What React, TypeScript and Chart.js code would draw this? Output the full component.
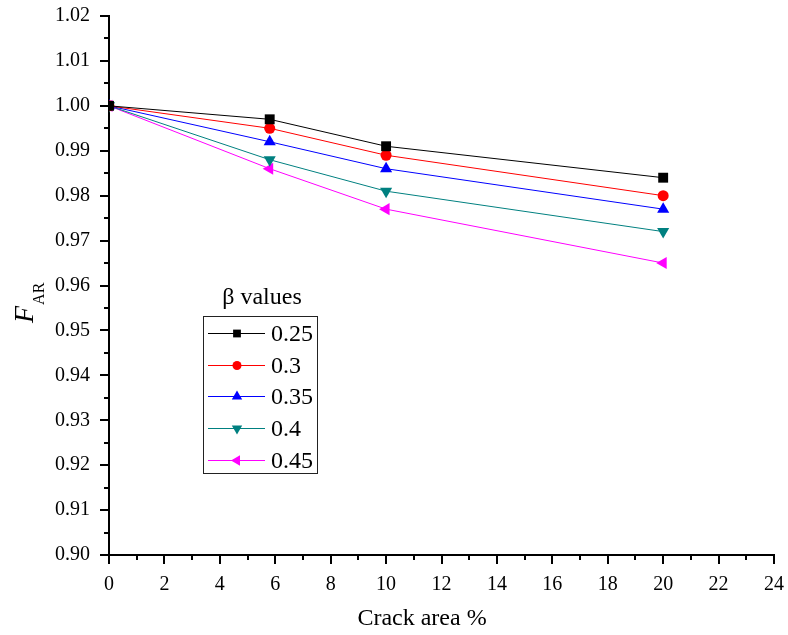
import React, { useEffect, useRef } from "react";
import { Chart, registerables } from "chart.js";

Chart.register(...registerables);

const crackArea = [0, 5.8, 10, 20];
const beta025 = [1.0, 0.997, 0.991, 0.984];
const beta030 = [1.0, 0.995, 0.989, 0.98];
const beta035 = [1.0, 0.992, 0.986, 0.977];
const beta040 = [1.0, 0.988, 0.981, 0.972];
const beta045 = [1.0, 0.986, 0.977, 0.965];
const seriesLabels = ["0.25", "0.3", "0.35", "0.4", "0.45"];
const seriesColors = ["#000000", "#ff0000", "#0000ff", "#008080", "#ff00ff"];
const seriesStyles = ["rect", "circle", "triangle", "triangle", "triangle"];
const seriesRotations = [0, 0, 0, 180, 270];
const seriesRadii = [7, 5.5, 7, 7, 7];
const legendRadii = [5.5, 4.5, 6, 6, 6];
const legendTitle = "β values";
const xTitle = "Crack area %";

const FONT = "'Liberation Serif', 'Times New Roman', serif";

function drawPointShape(ctx: any, style: string, rotation: number, x: number, y: number, r: number) {
  ctx.save();
  ctx.translate(x, y);
  ctx.rotate((rotation * Math.PI) / 180);
  ctx.beginPath();
  if (style === "rect") {
    const s = r * Math.SQRT1_2 * 2;
    ctx.rect(-s / 2, -s / 2, s, s);
  } else if (style === "circle") {
    ctx.arc(0, 0, r, 0, Math.PI * 2);
  } else {
    const a = (Math.PI * 2) / 3;
    ctx.moveTo(0, -r);
    ctx.lineTo(Math.sin(a) * r, -Math.cos(a) * r);
    ctx.lineTo(Math.sin(2 * a) * r, -Math.cos(2 * a) * r);
    ctx.closePath();
  }
  ctx.fill();
  ctx.restore();
}

const decorPlugin = {
  id: "decor",
  afterDraw(chart: any) {
    const ctx = chart.ctx;
    const xs = chart.scales.x;
    const ys = chart.scales.y;
    const area = chart.chartArea;
    ctx.save();
    ctx.strokeStyle = "#000";
    ctx.lineWidth = 2;
    for (let v = 0; v <= 24; v++) {
      const px = Math.round(xs.getPixelForValue(v));
      const len = v % 2 === 0 ? 9 : 5;
      ctx.beginPath();
      ctx.moveTo(px, area.bottom);
      ctx.lineTo(px, area.bottom + len);
      ctx.stroke();
    }
    for (let i = 0; i <= 24; i++) {
      const v = 0.9 + i * 0.005;
      const py = Math.round(ys.getPixelForValue(v));
      const len = i % 2 === 0 ? 9 : 5;
      ctx.beginPath();
      ctx.moveTo(area.left - len, py);
      ctx.lineTo(area.left, py);
      ctx.stroke();
    }

    ctx.fillStyle = "#000";
    ctx.font = `24px ${FONT}`;
    ctx.textAlign = "center";
    ctx.textBaseline = "alphabetic";
    ctx.fillText(xTitle, 422, 625);

    ctx.save();
    ctx.translate(33, 323);
    ctx.rotate(-Math.PI / 2);
    ctx.textAlign = "left";
    ctx.font = `italic 28px ${FONT}`;
    ctx.fillText("F", 0, 0);
    const fw = ctx.measureText("F").width;
    ctx.font = `16px ${FONT}`;
    ctx.fillText("AR", fw + 1, 11);
    ctx.restore();

    const bx = 203, by = 316, bw = 114, bh = 157;
    ctx.fillStyle = "#fff";
    ctx.fillRect(bx, by, bw, bh);
    ctx.strokeStyle = "#222";
    ctx.lineWidth = 1;
    ctx.strokeRect(bx + 0.5, by + 0.5, bw, bh);
    ctx.fillStyle = "#000";
    ctx.font = `24px ${FONT}`;
    ctx.textAlign = "center";
    ctx.textBaseline = "middle";
    ctx.fillText(legendTitle, 262, 298);
    ctx.textAlign = "left";
    chart.data.datasets.forEach((ds: any, i: number) => {
      const y = Math.round(333 + i * 31.7) + 0.5;
      ctx.strokeStyle = ds.borderColor;
      ctx.lineWidth = 1;
      ctx.beginPath();
      ctx.moveTo(208, y);
      ctx.lineTo(265, y);
      ctx.stroke();
      ctx.fillStyle = ds.borderColor;
      drawPointShape(ctx, ds.pointStyle, ds.pointRotation, 237, y, legendRadii[i]);
      ctx.fillStyle = "#000";
      ctx.font = `24px ${FONT}`;
      ctx.fillText(ds.label, 271, y + 1);
    });
    ctx.restore();
  },
};

export default function App() {
  const ref = useRef<HTMLCanvasElement>(null);
  useEffect(() => {
    if (!ref.current) return;
    const series = [beta025, beta030, beta035, beta040, beta045];
    const chart = new Chart(ref.current, {
      type: "line",
      data: {
        datasets: series.map((vals, i) => ({
          label: seriesLabels[i],
          data: vals.map((v, j) => ({ x: crackArea[j], y: v })),
          borderColor: seriesColors[i],
          backgroundColor: seriesColors[i],
          pointBackgroundColor: seriesColors[i],
          pointBorderColor: seriesColors[i],
          borderWidth: 1,
          pointStyle: seriesStyles[i] as any,
          pointRotation: seriesRotations[i],
          pointRadius: seriesRadii[i],
          pointBorderWidth: 0,
          tension: 0,
          fill: false,
        })),
      },
      options: {
        animation: false,
        responsive: false,
        maintainAspectRatio: false,
        layout: { padding: { left: 0, right: 14, top: 16, bottom: 0 } },
        plugins: {
          legend: { display: false },
          tooltip: { enabled: false },
          title: { display: false },
        },
        scales: {
          x: {
            type: "linear",
            min: 0,
            max: 24,
            grid: { display: false },
            border: { display: true, color: "#000", width: 2 },
            ticks: {
              stepSize: 2,
              color: "#000",
              font: { family: FONT, size: 20 },
              padding: 10,
              maxRotation: 0,
            },
            afterFit: (s: any) => {
              s.height = 80;
              s.paddingLeft = 0;
              s.paddingRight = 0;
            },
          },
          y: {
            type: "linear",
            min: 0.9,
            max: 1.02,
            grid: { display: false },
            border: { display: true, color: "#000", width: 2 },
            ticks: {
              stepSize: 0.01,
              color: "#000",
              font: { family: FONT, size: 20 },
              padding: 11,
              callback: (v: any) => Number(v).toFixed(2),
            },
            afterFit: (s: any) => {
              s.width = 109;
              s.paddingTop = 0;
              s.paddingBottom = 0;
            },
          },
        },
      },
      plugins: [decorPlugin],
    });
    return () => chart.destroy();
  }, []);
  return (
    <div style={{ position: "fixed", left: 0, top: 0, width: 788, height: 635, background: "#fff" }}>
      <canvas ref={ref} width={788} height={635} style={{ width: 788, height: 635, display: "block" }} />
    </div>
  );
}
